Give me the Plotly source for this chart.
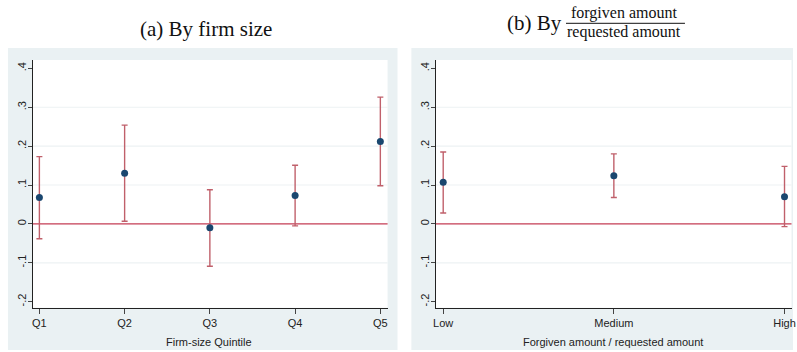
import plotly.graph_objects as go

# ---- data ----
size_cats = ["Q1", "Q2", "Q3", "Q4", "Q5"]
size_coef = [0.068, 0.130, -0.010, 0.073, 0.212]
size_lo = [-0.038, 0.007, -0.109, -0.005, 0.098]
size_hi = [0.173, 0.254, 0.088, 0.151, 0.326]

ratio_cats = ["Low", "Medium", "High"]
ratio_coef = [0.107, 0.124, 0.070]
ratio_lo = [0.028, 0.068, -0.007]
ratio_hi = [0.185, 0.180, 0.148]

ytick_vals = [-0.2, -0.1, 0, 0.1, 0.2, 0.3, 0.4]
ytick_text = ["-.2", "-.1", "0", ".1", ".2", ".3", ".4"]

W, H = 797, 352
BG = "#eaf1f3"
GRID = "#edf2f3"
NAVY = "#1a476f"
ERR = "#c0606b"
ZERO = "#c43c55"


def px(x):
    return x / W


def py(y):
    return (H - y) / H


fig = go.Figure()

for cats, coef, lo, hi, xa, ya in [
    (size_cats, size_coef, size_lo, size_hi, "x", "y"),
    (ratio_cats, ratio_coef, ratio_lo, ratio_hi, "x2", "y2"),
]:
    fig.add_trace(go.Scatter(
        x=cats, y=coef, mode="markers", xaxis=xa, yaxis=ya,
        marker=dict(color=NAVY, size=7),
        error_y=dict(type="data", symmetric=False,
                     array=[h - c for h, c in zip(hi, coef)],
                     arrayminus=[c - l for c, l in zip(coef, lo)],
                     color=ERR, thickness=1.4, width=3),
        showlegend=False,
    ))

tickfont = dict(family="Liberation Sans, Arial, sans-serif", size=11, color="#222")
yrange = [-0.2155, 0.4215]
common_x = dict(type="category", showgrid=False, zeroline=False, showline=True,
                linecolor="#222", linewidth=1.2, ticks="outside", ticklen=5,
                tickcolor="#444", tickfont=tickfont)
common_y = dict(range=yrange, showgrid=False, zeroline=False, showline=True,
                linecolor="#222", linewidth=1.2, ticks="outside", ticklen=4,
                tickcolor="#444", tickfont=tickfont, tickvals=ytick_vals,
                ticktext=ytick_text, tickangle=-90, ticklabelstandoff=-3)

fig.update_layout(
    width=W, height=H, margin=dict(l=0, r=0, t=0, b=0),
    paper_bgcolor="white", plot_bgcolor="white",
    xaxis=dict(domain=[px(30), px(388)], anchor="y",
               range=[-0.078, len(size_cats) - 1 + 0.085], **common_x),
    yaxis=dict(domain=[py(307.7), py(60)], anchor="x", **common_y),
    xaxis2=dict(domain=[px(436.7), px(795.5)], anchor="y2",
                range=[-0.043, len(ratio_cats) - 1 + 0.041], **common_x),
    yaxis2=dict(domain=[py(307.7), py(60)], anchor="x2", **common_y),
)

shapes = []
# panel backgrounds
shapes.append(dict(type="rect", xref="paper", yref="paper", x0=px(5), x1=px(398),
                   y0=py(350), y1=py(48), fillcolor=BG, line_width=0, layer="below"))
shapes.append(dict(type="rect", xref="paper", yref="paper", x0=px(412), x1=1.0,
                   y0=py(350), y1=py(48), fillcolor=BG, line_width=0, layer="below"))
# white plot regions
for xr, yr in [("x domain", "y domain"), ("x2 domain", "y2 domain")]:
    shapes.append(dict(type="rect", xref=xr, yref=yr, x0=0, x1=1, y0=0, y1=1,
                       fillcolor="white", line_width=0, layer="below"))
# gridlines (Stata omits min/max) and zero line
for xr, yr in [("x domain", "y"), ("x2 domain", "y2")]:
    for v in ytick_vals[1:-1]:
        if v == 0:
            continue
        shapes.append(dict(type="line", xref=xr, yref=yr, x0=0, x1=1, y0=v, y1=v,
                           line=dict(color=GRID, width=1.2), layer="below"))
    shapes.append(dict(type="line", xref=xr, yref=yr, x0=0, x1=1, y0=0, y1=0,
                       line=dict(color=ZERO, width=1.3), layer="below"))
# fraction bar in title (b)
shapes.append(dict(type="line", xref="paper", yref="paper", x0=px(568), x1=px(688),
                   y0=py(23.3), y1=py(23.3), line=dict(color="#111", width=1)))
fig.update_layout(shapes=shapes)

serif = "Liberation Serif, Times New Roman, serif"
ann = []
ann.append(dict(text="(a) By firm size", x=px(205), y=py(29), xref="paper", yref="paper",
                showarrow=False, font=dict(family=serif, size=21, color="#111"),
                xanchor="center", yanchor="middle"))
ann.append(dict(text="(b) By", x=px(566), y=py(23), xref="paper", yref="paper",
                showarrow=False, font=dict(family=serif, size=21, color="#111"),
                xanchor="right", yanchor="middle"))
ann.append(dict(text="forgiven amount", x=px(626), y=py(13.5), xref="paper", yref="paper",
                showarrow=False, font=dict(family=serif, size=16, color="#111"),
                xanchor="center", yanchor="middle"))
ann.append(dict(text="requested amount", x=px(627), y=py(32), xref="paper", yref="paper",
                showarrow=False, font=dict(family=serif, size=16, color="#111"),
                xanchor="center", yanchor="middle"))
ann.append(dict(text="Firm-size Quintile", x=px(208), y=py(341.5), xref="paper", yref="paper",
                showarrow=False, font=tickfont, xanchor="center", yanchor="middle"))
ann.append(dict(text="Forgiven amount / requested amount", x=px(615.7), y=py(341.5),
                xref="paper", yref="paper", showarrow=False, font=tickfont,
                xanchor="center", yanchor="middle"))
fig.update_layout(annotations=ann)

fig.write_html("out.html", config={"displayModeBar": False},
               post_script="document.body.style.margin='0';")
